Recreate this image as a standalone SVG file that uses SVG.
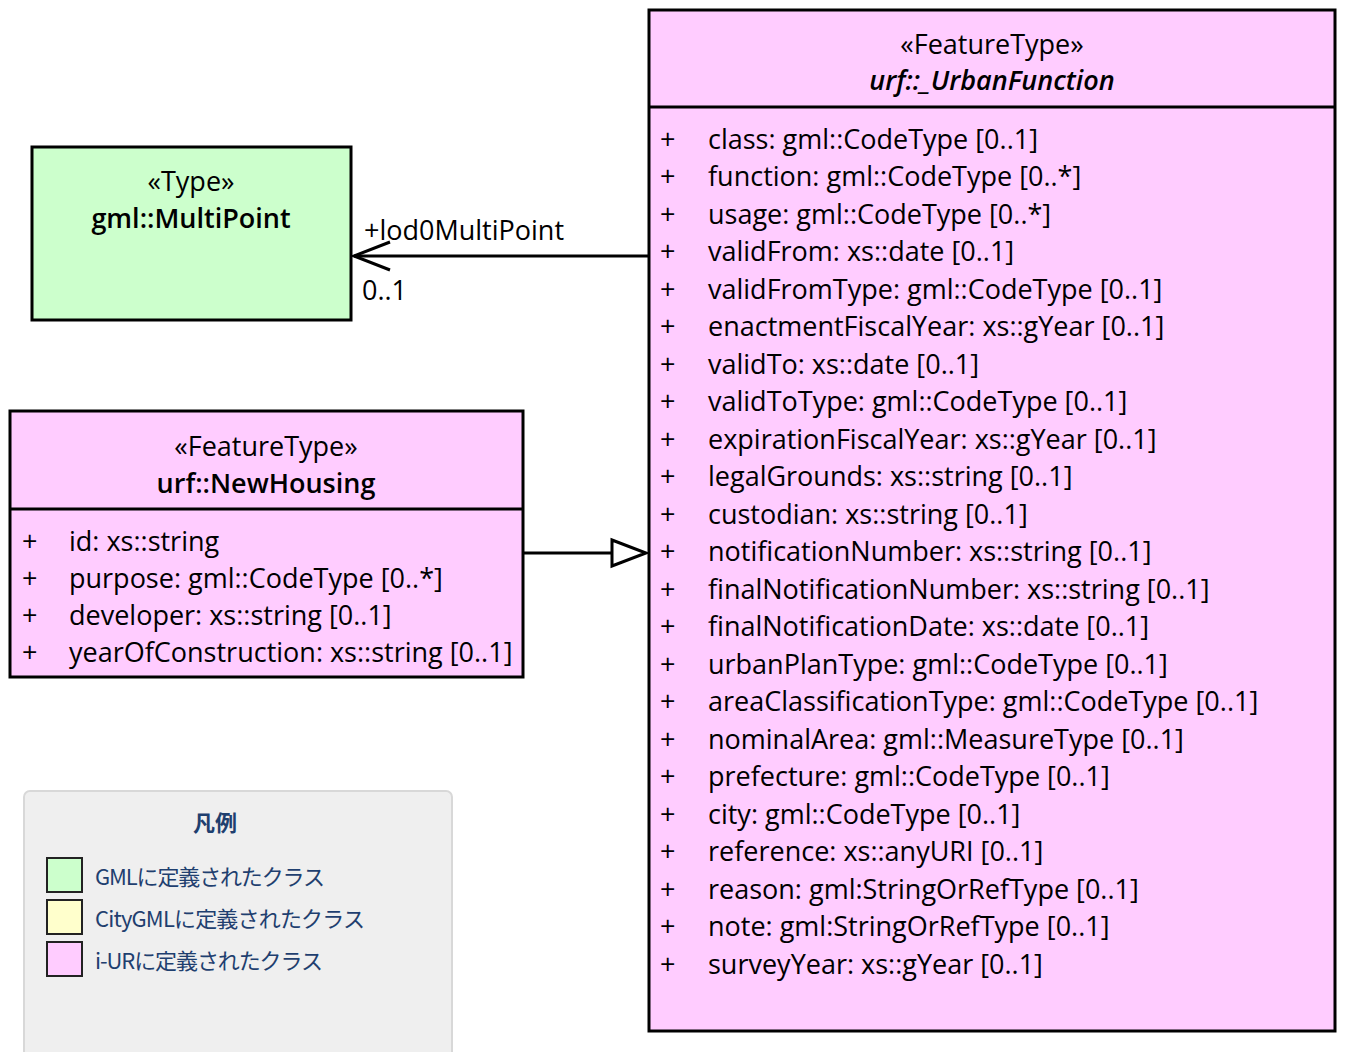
<svg xmlns="http://www.w3.org/2000/svg" width="1346" height="1052" viewBox="0 0 1346 1052">
<style>
.box{stroke:#000;stroke-width:3}
.pink{fill:#FFCCFF}
.green{fill:#CCFFCC}
.t{font-family:"Open Sans","Noto Sans","Liberation Sans",sans-serif;font-size:27px;fill:#000}
.c{text-anchor:middle}
.b{font-weight:600}
.i{font-style:italic}
.lg{font-family:"Noto Sans CJK JP",sans-serif;font-size:22px;fill:#1F3F6F}
.conn{stroke:#000;stroke-width:3;fill:none}
</style>
<rect width="1346" height="1052" fill="#fff"/>
<g id="legend">
<rect x="24" y="791" width="428" height="280" rx="6" fill="#EFEFEF" stroke="#D8D8D8" stroke-width="2"/>
<text x="215" y="831" class="lg c" style="font-weight:bold">凡例</text>
<rect x="47" y="858" width="35" height="34" fill="#CCFFCC" stroke="#222" stroke-width="2"/>
<rect x="47" y="900" width="35" height="34" fill="#FFFFCC" stroke="#222" stroke-width="2"/>
<rect x="47" y="942" width="35" height="34" fill="#FFCCFF" stroke="#222" stroke-width="2"/>
<text x="95" y="885" class="lg" textLength="230">GMLに定義されたクラス</text>
<text x="95" y="927" class="lg" textLength="270">CityGMLに定義されたクラス</text>
<text x="95" y="969" class="lg" textLength="228">i-URに定義されたクラス</text>
</g>
<g id="connectors">
<line x1="648" y1="256" x2="354" y2="256" class="conn"/>
<polyline points="390,242 354,256 390,270" class="conn"/>
<text x="364" y="240" class="t">+lod0MultiPoint</text>
<text x="362" y="300" class="t">0..1</text>
<line x1="524" y1="553" x2="612" y2="553" class="conn"/>
<polygon points="612,540 646,553 612,566" fill="#fff" stroke="#000" stroke-width="3"/>
</g>
<g id="MultiPoint">
<rect x="32" y="147" width="319" height="173" class="box green"/>
<text x="191" y="191" class="t c">«Type»</text>
<text x="191" y="228" class="t c b">gml::MultiPoint</text>
</g>
<g id="NewHousing">
<rect x="10" y="411" width="513" height="266" class="box pink"/>
<line x1="10" y1="509" x2="523" y2="509" class="box"/>
<text x="266" y="456" class="t c">«FeatureType»</text>
<text x="266" y="493" class="t c b">urf::NewHousing</text>
<g class="t">
<text x="22" y="551">+</text><text x="69" y="551">id: xs::string</text>
<text x="22" y="588">+</text><text x="69" y="588">purpose: gml::CodeType [0..*]</text>
<text x="22" y="625">+</text><text x="69" y="625">developer: xs::string [0..1]</text>
<text x="22" y="662">+</text><text x="69" y="662">yearOfConstruction: xs::string [0..1]</text>
</g>
</g>
<g id="UrbanFunction">
<rect x="649" y="10" width="686" height="1021" class="box pink"/>
<line x1="649" y1="107" x2="1335" y2="107" class="box"/>
<text x="992" y="54" class="t c">«FeatureType»</text>
<text x="992" y="90" class="t c b i">urf::_UrbanFunction</text>
<g class="t">
<text x="660" y="149">+</text><text x="708" y="149">class: gml::CodeType [0..1]</text>
<text x="660" y="186">+</text><text x="708" y="186">function: gml::CodeType [0..*]</text>
<text x="660" y="224">+</text><text x="708" y="224">usage: gml::CodeType [0..*]</text>
<text x="660" y="261">+</text><text x="708" y="261">validFrom: xs::date [0..1]</text>
<text x="660" y="299">+</text><text x="708" y="299">validFromType: gml::CodeType [0..1]</text>
<text x="660" y="336">+</text><text x="708" y="336">enactmentFiscalYear: xs::gYear [0..1]</text>
<text x="660" y="374">+</text><text x="708" y="374">validTo: xs::date [0..1]</text>
<text x="660" y="411">+</text><text x="708" y="411">validToType: gml::CodeType [0..1]</text>
<text x="660" y="449">+</text><text x="708" y="449">expirationFiscalYear: xs::gYear [0..1]</text>
<text x="660" y="486">+</text><text x="708" y="486">legalGrounds: xs::string [0..1]</text>
<text x="660" y="524">+</text><text x="708" y="524">custodian: xs::string [0..1]</text>
<text x="660" y="561">+</text><text x="708" y="561">notificationNumber: xs::string [0..1]</text>
<text x="660" y="599">+</text><text x="708" y="599">finalNotificationNumber: xs::string [0..1]</text>
<text x="660" y="636">+</text><text x="708" y="636">finalNotificationDate: xs::date [0..1]</text>
<text x="660" y="674">+</text><text x="708" y="674">urbanPlanType: gml::CodeType [0..1]</text>
<text x="660" y="711">+</text><text x="708" y="711">areaClassificationType: gml::CodeType [0..1]</text>
<text x="660" y="749">+</text><text x="708" y="749">nominalArea: gml::MeasureType [0..1]</text>
<text x="660" y="786">+</text><text x="708" y="786">prefecture: gml::CodeType [0..1]</text>
<text x="660" y="824">+</text><text x="708" y="824">city: gml::CodeType [0..1]</text>
<text x="660" y="861">+</text><text x="708" y="861">reference: xs::anyURI [0..1]</text>
<text x="660" y="899">+</text><text x="708" y="899">reason: gml:StringOrRefType [0..1]</text>
<text x="660" y="936">+</text><text x="708" y="936">note: gml:StringOrRefType [0..1]</text>
<text x="660" y="974">+</text><text x="708" y="974">surveyYear: xs::gYear [0..1]</text>
</g>
</g>
</svg>
